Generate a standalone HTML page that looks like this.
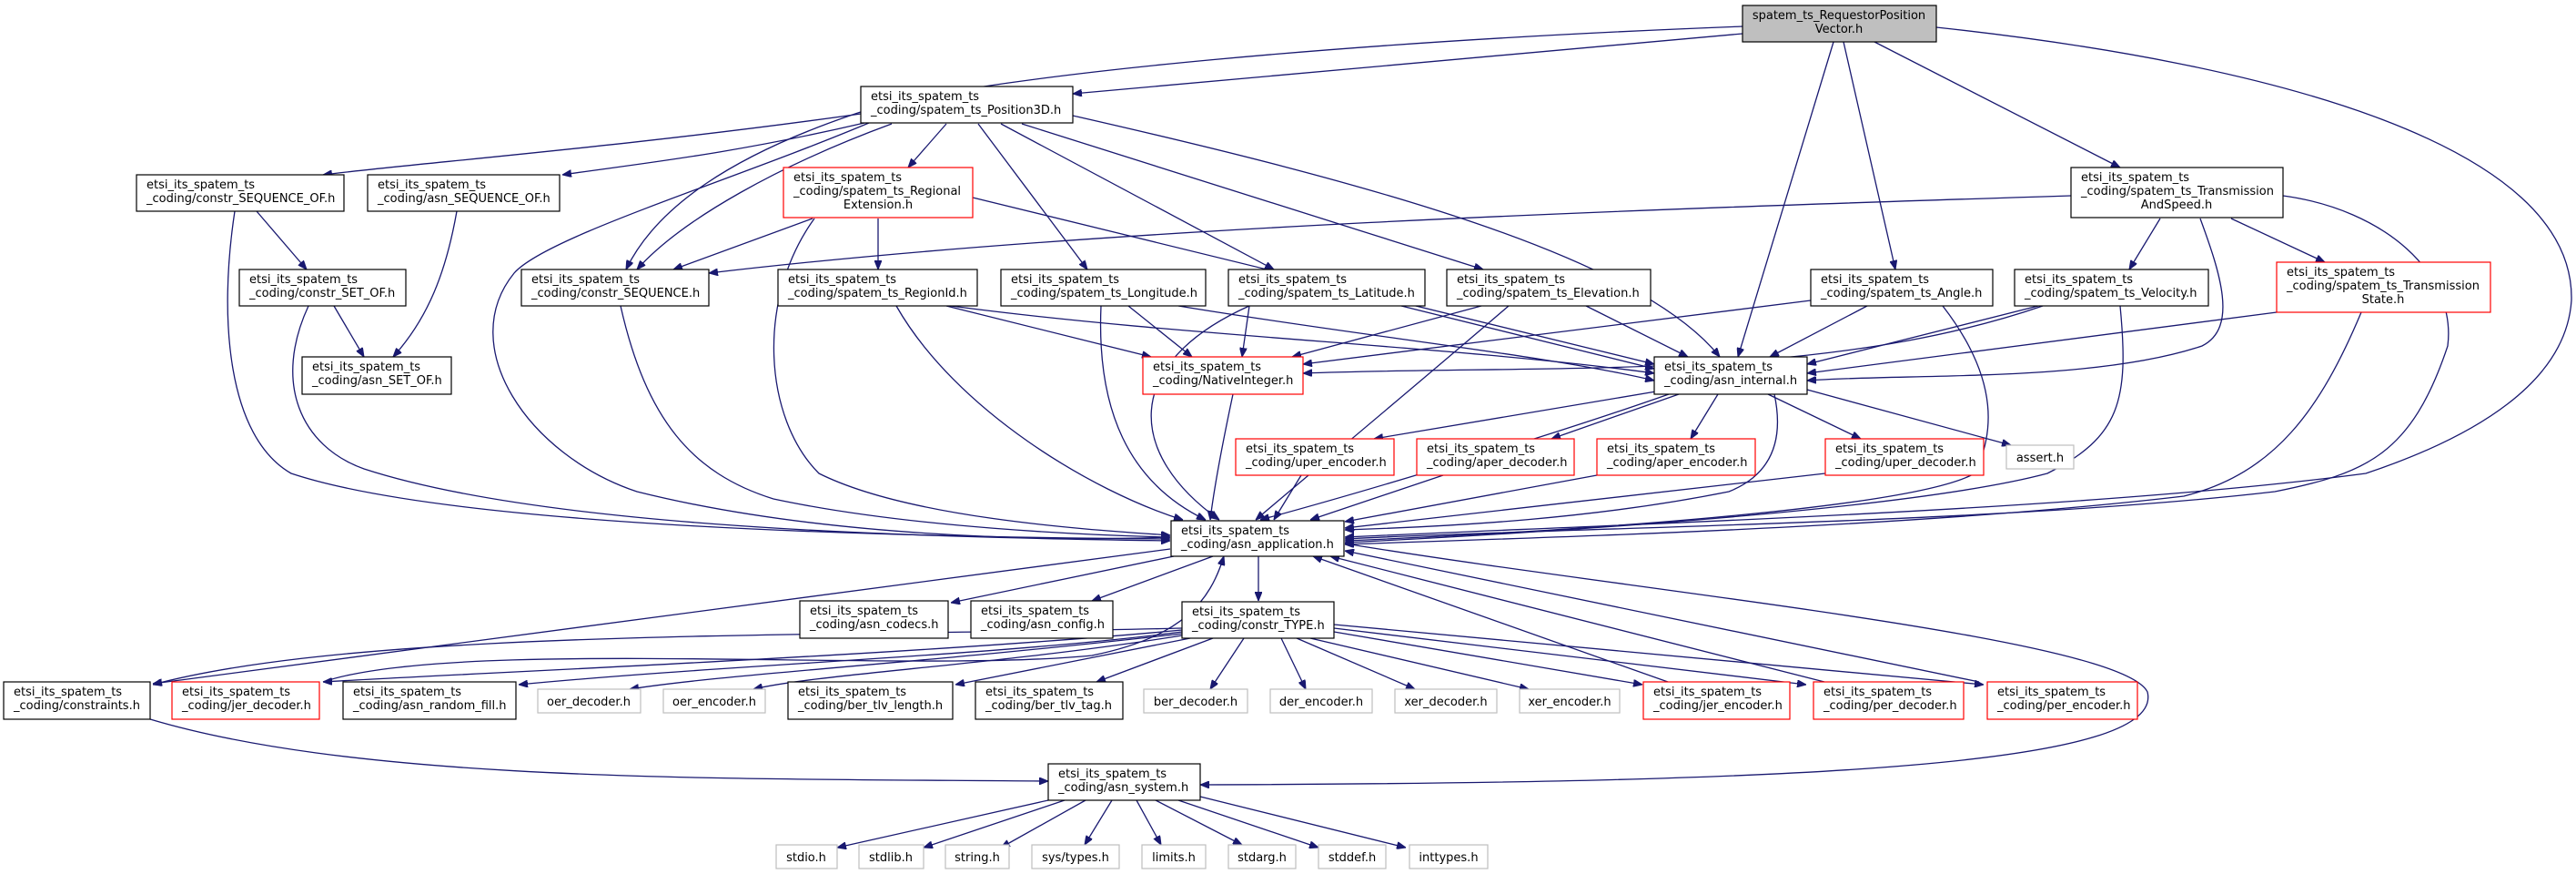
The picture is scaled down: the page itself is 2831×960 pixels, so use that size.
<!DOCTYPE html>
<html><head><meta charset="utf-8"><style>
html,body{margin:0;padding:0;background:#fff;}
svg{display:block;}
text{font-family:"DejaVu Sans","Liberation Sans",sans-serif;font-size:13px;fill:#000;}
.e{fill:none;stroke:#191970;stroke-width:1.3;marker-end:url(#a);}
.n{fill:#fff;stroke:#000;stroke-width:1.2;}
.r{fill:#fff;stroke:#f00;stroke-width:1.2;}
.g{fill:#fff;stroke:#bfbfbf;stroke-width:1.2;}
</style></head><body>
<svg width="2831" height="960" viewBox="0 0 2831 960" xmlns="http://www.w3.org/2000/svg">
<defs><marker id="a" markerWidth="10" markerHeight="8" refX="10" refY="4" orient="auto" markerUnits="userSpaceOnUse"><path d="M0,0 L10,4 L0,8 z" fill="#191970" stroke="#191970"/></marker></defs>
<g>
<!-- root edges -->
<path class="e" d="M1915,37 L1179,103"/>
<path class="e" d="M1915,29 C1500,45 1100,80 955,120 C800,170 720,230 688,296"/>
<path class="e" d="M2015,46 L1910,392"/>
<path class="e" d="M2026,46 L2083,296"/>
<path class="e" d="M2060,46 L2330,184"/>
<path class="e" d="M2128,30 C2500,70 2830,160 2826,330 C2820,420 2720,480 2600,520 C2300,560 1800,575 1478,590"/>
<!-- Position3D -->
<path class="e" d="M946,125 C700,160 450,180 355,192"/>
<path class="e" d="M950,135 C800,170 700,180 618,192"/>
<path class="e" d="M980,136 C860,180 750,240 700,296"/>
<path class="e" d="M1040,136 L998,184"/>
<path class="e" d="M1075,136 L1195,296"/>
<path class="e" d="M1100,136 L1400,296"/>
<path class="e" d="M1123,136 L1630,296"/>
<path class="e" d="M1179,127 C1500,200 1800,280 1890,392"/>
<path class="e" d="M955,135 C800,200 600,260 565,300 C500,380 580,500 700,540 C900,590 1150,595 1286,590"/>
<!-- RegionalExtension -->
<path class="e" d="M893,240 L740,296"/>
<path class="e" d="M965,240 L965,296"/>
<path class="e" d="M1069,217 L1818,400"/>
<path class="e" d="M895,240 C830,330 840,460 900,520 C1000,570 1200,582 1286,588"/>
<!-- SEQUENCE_OF etc -->
<path class="e" d="M282,232 L337,296"/>
<path class="e" d="M258,232 C240,350 250,480 320,520 C500,580 1000,590 1286,592"/>
<path class="e" d="M502,232 C490,300 470,350 432,392"/>
<path class="e" d="M367,336 L400,392"/>
<path class="e" d="M339,336 C300,420 330,490 400,515 C600,580 1000,590 1286,594"/>
<path class="e" d="M682,336 C710,460 760,520 850,548 C1000,580 1200,588 1286,590"/>
<!-- RegionId -->
<path class="e" d="M1040,336 L1265,392"/>
<path class="e" d="M1045,336 C1300,370 1600,380 1818,410"/>
<path class="e" d="M985,336 C1050,450 1200,540 1300,571"/>
<!-- Longitude -->
<path class="e" d="M1240,336 L1310,392"/>
<path class="e" d="M1295,336 C1500,370 1700,390 1818,418"/>
<path class="e" d="M1210,336 C1205,450 1240,530 1325,571"/>
<!-- Latitude -->
<path class="e" d="M1373,336 L1365,392"/>
<path class="e" d="M1540,336 L1818,405"/>
<path class="e" d="M1373,336 C1230,400 1240,500 1340,571"/>
<!-- Elevation -->
<path class="e" d="M1628,336 L1420,392"/>
<path class="e" d="M1743,336 L1855,392"/>
<path class="e" d="M1658,336 C1560,420 1440,520 1380,571"/>
<!-- TransmissionAndSpeed -->
<path class="e" d="M2276,215 C1800,230 1200,250 779,300"/>
<path class="e" d="M2374,240 L2340,296"/>
<path class="e" d="M2452,240 L2555,288"/>
<path class="e" d="M2418,240 C2440,300 2460,360 2420,380 C2300,420 2100,410 1986,418"/>
<path class="e" d="M2509,215 C2620,230 2700,300 2690,380 C2650,500 2600,520 2500,540 C2200,575 1700,580 1478,592"/>
<!-- Angle -->
<path class="e" d="M1990,330 L1432,400"/>
<path class="e" d="M2052,336 L1945,392"/>
<path class="e" d="M2135,336 C2200,420 2190,480 2170,520 C2100,560 1700,585 1478,594"/>
<!-- Velocity -->
<path class="e" d="M2245,336 C2000,420 1700,400 1432,410"/>
<path class="e" d="M2240,336 L1986,400"/>
<path class="e" d="M2330,336 C2340,440 2330,480 2250,520 C2100,560 1700,585 1478,596"/>
<!-- TransmissionState -->
<path class="e" d="M2502,343 L1986,410"/>
<path class="e" d="M2595,343 C2550,450 2500,520 2400,545 C2100,580 1700,590 1478,598"/>
<!-- NativeInteger -->
<path class="e" d="M1355,433 C1345,480 1335,530 1330,571"/>
<!-- asn_internal -->
<path class="e" d="M1820,430 L1510,482"/>
<path class="e" d="M1845,433 L1705,482"/>
<path class="e" d="M1888,433 L1858,482"/>
<path class="e" d="M1943,433 L2045,482"/>
<path class="e" d="M1986,428 L2210,489"/>
<path class="e" d="M1950,433 C1960,480 1950,520 1900,540 C1750,570 1600,578 1478,582"/>
<path class="e" d="M1834,433 C1700,480 1500,540 1385,571"/>
<!-- red row -->
<path class="e" d="M1430,522 L1400,571"/>
<path class="e" d="M1586,522 L1440,571"/>
<path class="e" d="M1755,522 L1478,573"/>
<path class="e" d="M2006,520 L1478,580"/>
<!-- asn_application -->
<path class="e" d="M1290,611 L1045,662"/>
<path class="e" d="M1333,611 L1200,660"/>
<path class="e" d="M1383,611 L1383,660"/>
<path class="e" d="M1286,603 L168,751"/>
<path class="e" d="M1478,597 C1800,650 2330,700 2360,760 C2380,840 2000,860 1319,862"/>
<!-- back edges to asn_application -->
<path class="e" d="M355,749 C500,700 1000,740 1200,720 C1300,700 1330,660 1345,611"/>
<path class="e" d="M1833,749 L1443,611"/>
<path class="e" d="M2005,749 L1462,611"/>
<path class="e" d="M2175,749 L1478,605"/>
<!-- constr_TYPE -->
<path class="e" d="M1299,690 C900,700 400,690 168,752"/>
<path class="e" d="M1299,692 C1000,720 500,740 355,749"/>
<path class="e" d="M1299,694 C1100,720 800,730 570,752"/>
<path class="e" d="M1299,696 C1000,730 800,740 692,757"/>
<path class="e" d="M1299,698 C1100,730 900,740 828,757"/>
<path class="e" d="M1308,701 L1050,752"/>
<path class="e" d="M1333,701 L1205,749"/>
<path class="e" d="M1367,701 L1330,757"/>
<path class="e" d="M1408,701 L1435,757"/>
<path class="e" d="M1425,701 L1555,757"/>
<path class="e" d="M1440,701 L1680,757"/>
<path class="e" d="M1466,694 L1805,752"/>
<path class="e" d="M1466,690 L1985,752"/>
<path class="e" d="M1466,686 L2180,752"/>
<!-- constraints -> asn_system -->
<path class="e" d="M165,790 C400,860 800,855 1152,858"/>
<!-- asn_system -->
<path class="e" d="M1152,879 L920,931"/>
<path class="e" d="M1170,879 L1015,931"/>
<path class="e" d="M1193,879 L1100,931"/>
<path class="e" d="M1222,879 L1192,928"/>
<path class="e" d="M1249,879 L1276,928"/>
<path class="e" d="M1270,879 L1365,928"/>
<path class="e" d="M1295,879 L1449,931"/>
<path class="e" d="M1319,875 L1545,931"/>
</g>
<g>
<rect class="n" x="1915" y="6" width="213" height="40" style="fill:#bfbfbf"/><text x="2021" y="21" text-anchor="middle">spatem_ts_RequestorPosition</text><text x="2021" y="36" text-anchor="middle">Vector.h</text>
<rect class="n" x="946" y="95" width="233" height="40"/><text x="957" y="110">etsi_its_spatem_ts</text><text x="957" y="125">_coding/spatem_ts_Position3D.h</text>
<rect class="n" x="150" y="192" width="228" height="40"/><text x="161" y="207">etsi_its_spatem_ts</text><text x="161" y="222">_coding/constr_SEQUENCE_OF.h</text>
<rect class="n" x="404" y="192" width="211" height="40"/><text x="415" y="207">etsi_its_spatem_ts</text><text x="415" y="222">_coding/asn_SEQUENCE_OF.h</text>
<rect class="r" x="861" y="184" width="208" height="55"/><text x="872" y="199">etsi_its_spatem_ts</text><text x="872" y="214">_coding/spatem_ts_Regional</text><text x="965" y="229" text-anchor="middle">Extension.h</text>
<rect class="n" x="2276" y="184" width="233" height="55"/><text x="2287" y="199">etsi_its_spatem_ts</text><text x="2287" y="214">_coding/spatem_ts_Transmission</text><text x="2392" y="229" text-anchor="middle">AndSpeed.h</text>
<rect class="n" x="263" y="296" width="183" height="40"/><text x="274" y="311">etsi_its_spatem_ts</text><text x="274" y="326">_coding/constr_SET_OF.h</text>
<rect class="n" x="573" y="296" width="206" height="40"/><text x="584" y="311">etsi_its_spatem_ts</text><text x="584" y="326">_coding/constr_SEQUENCE.h</text>
<rect class="n" x="855" y="296" width="219" height="40"/><text x="866" y="311">etsi_its_spatem_ts</text><text x="866" y="326">_coding/spatem_ts_RegionId.h</text>
<rect class="n" x="1100" y="296" width="225" height="40"/><text x="1111" y="311">etsi_its_spatem_ts</text><text x="1111" y="326">_coding/spatem_ts_Longitude.h</text>
<rect class="n" x="1350" y="296" width="216" height="40"/><text x="1361" y="311">etsi_its_spatem_ts</text><text x="1361" y="326">_coding/spatem_ts_Latitude.h</text>
<rect class="n" x="1590" y="296" width="224" height="40"/><text x="1601" y="311">etsi_its_spatem_ts</text><text x="1601" y="326">_coding/spatem_ts_Elevation.h</text>
<rect class="n" x="1990" y="296" width="200" height="40"/><text x="2001" y="311">etsi_its_spatem_ts</text><text x="2001" y="326">_coding/spatem_ts_Angle.h</text>
<rect class="n" x="2214" y="296" width="213" height="40"/><text x="2225" y="311">etsi_its_spatem_ts</text><text x="2225" y="326">_coding/spatem_ts_Velocity.h</text>
<rect class="r" x="2502" y="288" width="235" height="55"/><text x="2513" y="303">etsi_its_spatem_ts</text><text x="2513" y="318">_coding/spatem_ts_Transmission</text><text x="2619" y="333" text-anchor="middle">State.h</text>
<rect class="n" x="332" y="392" width="164" height="41"/><text x="343" y="407">etsi_its_spatem_ts</text><text x="343" y="422">_coding/asn_SET_OF.h</text>
<rect class="r" x="1256" y="392" width="176" height="41"/><text x="1267" y="407">etsi_its_spatem_ts</text><text x="1267" y="422">_coding/NativeInteger.h</text>
<rect class="n" x="1818" y="392" width="168" height="41"/><text x="1829" y="407">etsi_its_spatem_ts</text><text x="1829" y="422">_coding/asn_internal.h</text>
<rect class="r" x="1358" y="482" width="174" height="40"/><text x="1369" y="497">etsi_its_spatem_ts</text><text x="1369" y="512">_coding/uper_encoder.h</text>
<rect class="r" x="1557" y="482" width="173" height="40"/><text x="1568" y="497">etsi_its_spatem_ts</text><text x="1568" y="512">_coding/aper_decoder.h</text>
<rect class="r" x="1755" y="482" width="174" height="40"/><text x="1766" y="497">etsi_its_spatem_ts</text><text x="1766" y="512">_coding/aper_encoder.h</text>
<rect class="r" x="2006" y="482" width="174" height="40"/><text x="2017" y="497">etsi_its_spatem_ts</text><text x="2017" y="512">_coding/uper_decoder.h</text>
<rect class="g" x="2205" y="489" width="74" height="26"/><text x="2242" y="507" text-anchor="middle">assert.h</text>
<rect class="n" x="1287" y="572" width="190" height="39"/><text x="1298" y="587">etsi_its_spatem_ts</text><text x="1298" y="602">_coding/asn_application.h</text>
<rect class="n" x="879" y="660" width="163" height="41"/><text x="890" y="675">etsi_its_spatem_ts</text><text x="890" y="690">_coding/asn_codecs.h</text>
<rect class="n" x="1067" y="660" width="156" height="41"/><text x="1078" y="675">etsi_its_spatem_ts</text><text x="1078" y="690">_coding/asn_config.h</text>
<rect class="n" x="1299" y="661" width="167" height="40"/><text x="1310" y="676">etsi_its_spatem_ts</text><text x="1310" y="691">_coding/constr_TYPE.h</text>
<rect class="n" x="4" y="749" width="161" height="41"/><text x="15" y="764">etsi_its_spatem_ts</text><text x="15" y="779">_coding/constraints.h</text>
<rect class="r" x="189" y="749" width="162" height="41"/><text x="200" y="764">etsi_its_spatem_ts</text><text x="200" y="779">_coding/jer_decoder.h</text>
<rect class="n" x="377" y="749" width="190" height="41"/><text x="388" y="764">etsi_its_spatem_ts</text><text x="388" y="779">_coding/asn_random_fill.h</text>
<rect class="g" x="591" y="757" width="113" height="26"/><text x="647" y="775" text-anchor="middle">oer_decoder.h</text>
<rect class="g" x="729" y="757" width="112" height="26"/><text x="785" y="775" text-anchor="middle">oer_encoder.h</text>
<rect class="n" x="866" y="749" width="181" height="41"/><text x="877" y="764">etsi_its_spatem_ts</text><text x="877" y="779">_coding/ber_tlv_length.h</text>
<rect class="n" x="1072" y="749" width="162" height="41"/><text x="1083" y="764">etsi_its_spatem_ts</text><text x="1083" y="779">_coding/ber_tlv_tag.h</text>
<rect class="g" x="1257" y="757" width="114" height="26"/><text x="1314" y="775" text-anchor="middle">ber_decoder.h</text>
<rect class="g" x="1396" y="757" width="112" height="26"/><text x="1452" y="775" text-anchor="middle">der_encoder.h</text>
<rect class="g" x="1533" y="757" width="112" height="26"/><text x="1589" y="775" text-anchor="middle">xer_decoder.h</text>
<rect class="g" x="1670" y="757" width="110" height="26"/><text x="1725" y="775" text-anchor="middle">xer_encoder.h</text>
<rect class="r" x="1806" y="749" width="161" height="41"/><text x="1817" y="764">etsi_its_spatem_ts</text><text x="1817" y="779">_coding/jer_encoder.h</text>
<rect class="r" x="1993" y="749" width="165" height="41"/><text x="2004" y="764">etsi_its_spatem_ts</text><text x="2004" y="779">_coding/per_decoder.h</text>
<rect class="r" x="2184" y="749" width="165" height="41"/><text x="2195" y="764">etsi_its_spatem_ts</text><text x="2195" y="779">_coding/per_encoder.h</text>
<rect class="n" x="1152" y="839" width="167" height="40"/><text x="1163" y="854">etsi_its_spatem_ts</text><text x="1163" y="869">_coding/asn_system.h</text>
<rect class="g" x="853" y="928" width="67" height="26"/><text x="886" y="946" text-anchor="middle">stdio.h</text>
<rect class="g" x="944" y="928" width="71" height="26"/><text x="979" y="946" text-anchor="middle">stdlib.h</text>
<rect class="g" x="1039" y="928" width="70" height="26"/><text x="1074" y="946" text-anchor="middle">string.h</text>
<rect class="g" x="1134" y="928" width="96" height="26"/><text x="1182" y="946" text-anchor="middle">sys/types.h</text>
<rect class="g" x="1255" y="928" width="70" height="26"/><text x="1290" y="946" text-anchor="middle">limits.h</text>
<rect class="g" x="1350" y="928" width="74" height="26"/><text x="1387" y="946" text-anchor="middle">stdarg.h</text>
<rect class="g" x="1449" y="928" width="74" height="26"/><text x="1486" y="946" text-anchor="middle">stddef.h</text>
<rect class="g" x="1549" y="928" width="86" height="26"/><text x="1592" y="946" text-anchor="middle">inttypes.h</text>
</g>
</svg>
</body></html>
